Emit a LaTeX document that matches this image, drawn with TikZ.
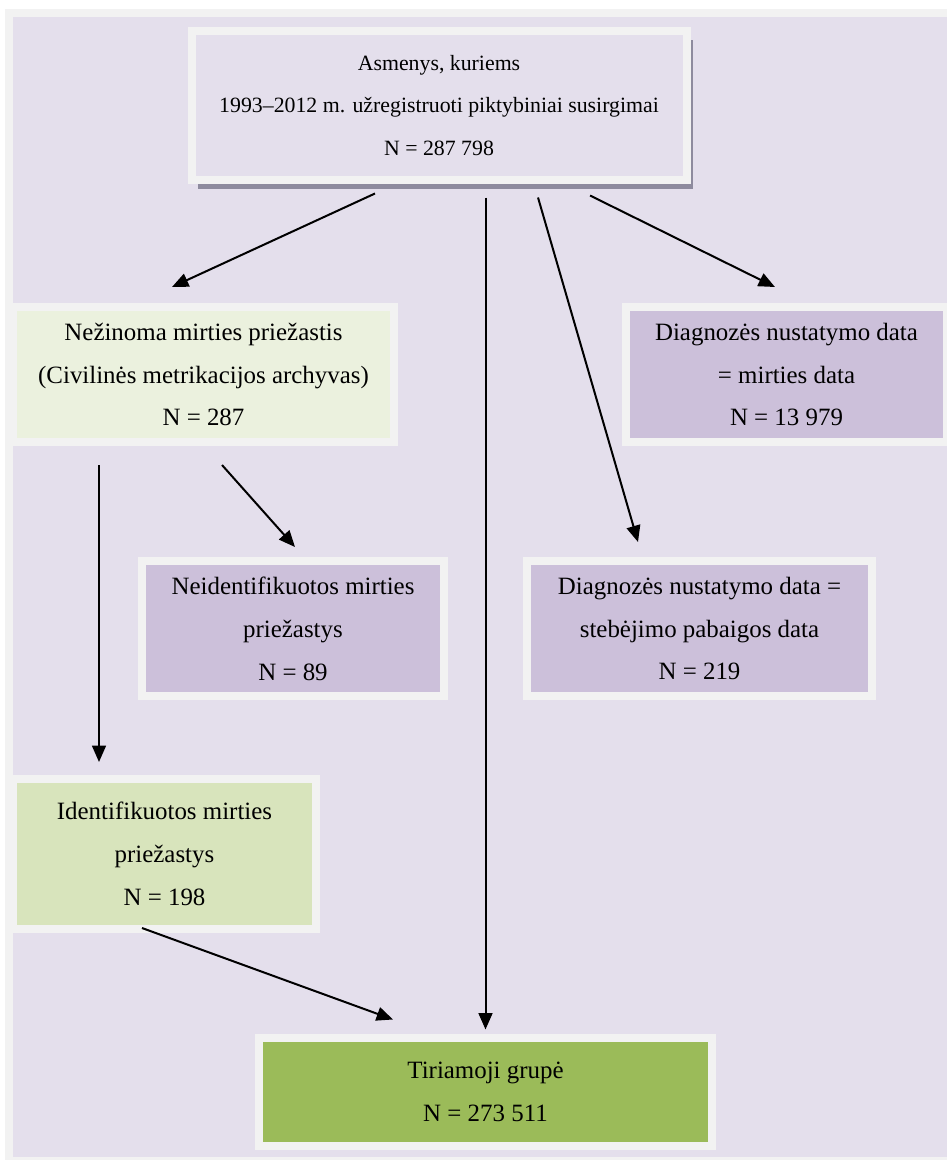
\documentclass[tikz,border=0pt]{standalone}
\usepackage{fontspec}
\setmainfont{Liberation Serif}
\usetikzlibrary{arrows.meta,calc,shadows}
\definecolor{regbg}{HTML}{E4DFEC}
\definecolor{regframe}{HTML}{F2F2F2}
\definecolor{regpale}{HTML}{EBF1DE}
\definecolor{regsage}{HTML}{D8E4BC}
\definecolor{reglilac}{HTML}{CCC0DA}
\definecolor{regolive}{HTML}{9BBB59}
\definecolor{regshade}{HTML}{8E8B9E}
\tikzset{
  box/.style={draw=regframe, line width=4.4pt, inner sep=0pt, align=center, font=\fontsize{13.7}{23.6}\selectfont},
  srcbox/.style={box, fill=regbg, font=\fontsize{12}{23.6}\selectfont, drop shadow={shadow xshift=3.3pt, shadow yshift=-4.95pt, fill=regshade, opacity=1}},
  lossbox/.style={box, fill=reglilac},
  flow/.style={-{Triangle[length=9pt,width=7.6pt]}, line width=1.1pt}
}
\begin{document}
\begin{tikzpicture}[x=0.55pt, y=-0.55pt]
  \useasboundingbox (0,0) rectangle (946,1160);
  \fill[regframe] (5,9) rectangle (970,1170);
  \fill[regbg] (13,17) rectangle (970,1157);

  \node[srcbox, minimum width=272.25pt, minimum height=81.95pt] (src) at (439,105.5)
    {Asmenys, kuriems\\1993--2012 m. užregistruoti piktybiniai susirgimai\\N = 287 798};
  \node[box, fill=regpale, minimum width=209.55pt, minimum height=74.25pt] (unk) at (203.5,374.5)
    {Nežinoma mirties priežastis\\(Civilinės metrikacijos archyvas)\\N = 287};
  \node[lossbox, minimum width=176.55pt, minimum height=74.25pt] (mort) at (786.5,374.5)
    {Diagnozės nustatymo data\\= mirties data\\N = 13 979};
  \node[lossbox, minimum width=166.1pt, minimum height=74.25pt] (neid) at (293,628.5)
    {Neidentifikuotos mirties\\priežastys\\N = 89};
  \node[lossbox, minimum width=189.75pt, minimum height=74.25pt] (steb) at (699.5,628.5)
    {Diagnozės nustatymo data =\\stebėjimo pabaigos data\\N = 219};
  \node[box, fill=regsage, minimum width=166.65pt, minimum height=82.5pt] (ident) at (164.5,854)
    {Identifikuotos mirties\\priežastys\\N = 198};
  \node[box, fill=regolive, minimum width=249.15pt, minimum height=59.4pt] (tiria) at (485.5,1092)
    {Tiriamoji grupė\\N = 273 511};

  \draw[flow] ($(src.south)+(-64,9.5)$) -- ($(unk.north)+(-31.5,-16)$);
  \draw[flow] ($(src.south)+(46.5,13.5)$) -- ($(tiria.north)+(0,-4.5)$);
  \draw[flow] ($(src.south)+(99,13.5)$) -- ($(steb.north)+(-61.5,-15)$);
  \draw[flow] ($(src.south)+(151,11.5)$) -- ($(mort.north)+(-11.5,-16)$);
  \draw[flow] ($(unk.south)+(-104.5,19)$) -- ($(ident.north)+(-65.5,-13)$);
  \draw[flow] ($(unk.south)+(18.5,19)$) -- ($(neid.north)+(2,-10)$);
  \draw[flow] ($(ident.south)+(-22.5,-5)$) -- ($(tiria.north)+(-92.5,-14.5)$);
\end{tikzpicture}
\end{document}
